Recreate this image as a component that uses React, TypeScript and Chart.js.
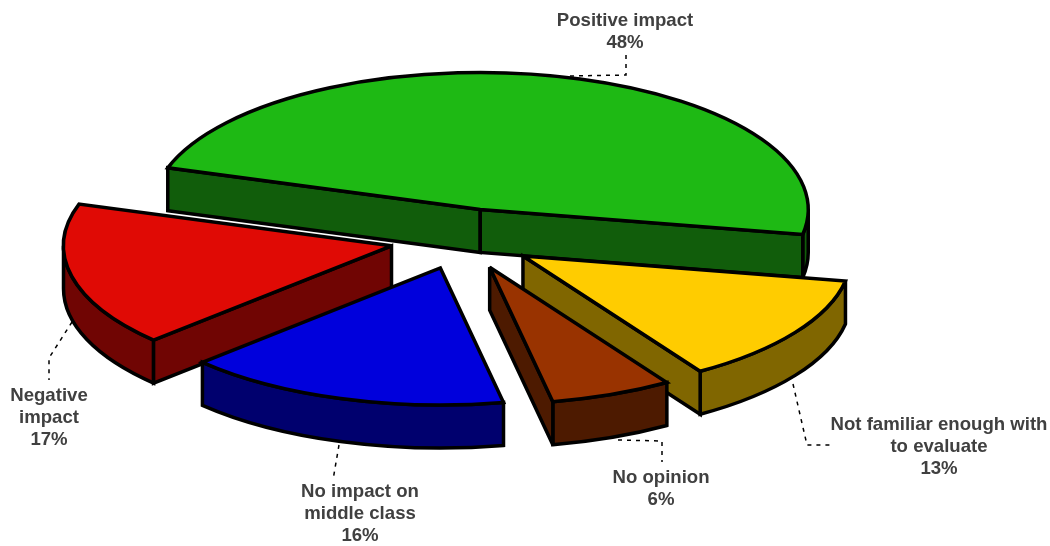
import React, { useEffect, useRef } from "react";
import { Chart, registerables } from "chart.js";

Chart.register(...registerables);

const categories = ["Positive impact", "Not familiar enough with to evaluate", "No opinion", "No impact on middle class", "Negative impact"];
const shares = [48, 13, 6, 16, 17];
const topColors = ["#1EB914", "#FFCC00", "#993300", "#0000DC", "#E00A05"];
const wallColors = ["#115D0B", "#806600", "#4D1A00", "#00006E", "#700503"];
const labelLines = [["Positive impact"], ["Not familiar enough with", "to evaluate"], ["No opinion"], ["No impact on", "middle class"], ["Negative", "impact"]];

// Label block centre (x, first baseline) and the dotted leader running to each slice.
const labelAnchors = [[625, 26], [939, 430], [661, 483], [360, 497], [49, 401]];
const leaders = [
  [[570, 76], [626, 75], [626, 52]],
  [[793, 384], [807, 445], [830, 445]],
  [[618, 440], [662, 441], [662, 462]],
  [[339, 445], [333, 480]],
  [[72, 322], [49, 358], [49, 380]],
];

// Projection of the flat pie onto the tilted view.
const RADIUS_X = 328;
const RADIUS_Y = 137;
const DEPTH = 43;
const PAINT_ORDER = [0, 1, 2, 4, 3];

const tiltedPie = {
  id: "tiltedPie",
  beforeDatasetDraw(chart: any) {
    const ctx: CanvasRenderingContext2D = chart.ctx;
    const arcs = chart.getDatasetMeta(0).data;
    ctx.save();
    ctx.lineWidth = 3.5;
    ctx.lineJoin = "miter";
    ctx.miterLimit = 3;
    ctx.strokeStyle = "#000";

    for (const i of PAINT_ORDER) {
      const arc = arcs[i];
      const { x, y, startAngle, endAngle, outerRadius } = arc.getProps(["x", "y", "startAngle", "endAngle", "outerRadius"]);
      const sx = RADIUS_X / outerRadius;
      const sy = RADIUS_Y / outerRadius;
      const mid = (startAngle + endAngle) / 2;
      const shift = (arc.options.offset || 0) / 4;
      const px = x + Math.cos(mid) * shift * sx;
      const py = y + Math.sin(mid) * shift * sy;
      const rim = (a: number) => [px + RADIUS_X * Math.cos(a), py + RADIUS_Y * Math.sin(a)];

      const paint = (fill: string) => {
        ctx.fillStyle = fill;
        ctx.fill();
        ctx.stroke();
      };

      // Curved outer wall: only the part of the rim that faces the viewer.
      for (let k = -1; k <= 1; k++) {
        const a = Math.max(startAngle, 2 * Math.PI * k);
        const b = Math.min(endAngle, Math.PI + 2 * Math.PI * k);
        if (b > a) {
          ctx.beginPath();
          ctx.ellipse(px, py, RADIUS_X, RADIUS_Y, 0, a, b);
          ctx.ellipse(px, py + DEPTH, RADIUS_X, RADIUS_Y, 0, b, a, true);
          ctx.closePath();
          paint(wallColors[i]);
        }
      }

      // Flat cut walls, drawn when their outward normal points toward the viewer.
      const cutWall = (a: number) => {
        const [ex, ey] = rim(a);
        ctx.beginPath();
        ctx.moveTo(px, py);
        ctx.lineTo(ex, ey);
        ctx.lineTo(ex, ey + DEPTH);
        ctx.lineTo(px, py + DEPTH);
        ctx.closePath();
        paint(wallColors[i]);
      };
      if (Math.cos(startAngle) < 0) cutWall(startAngle);
      if (Math.cos(endAngle) > 0) cutWall(endAngle);

      // Top face.
      ctx.beginPath();
      ctx.moveTo(px, py);
      ctx.ellipse(px, py, RADIUS_X, RADIUS_Y, 0, startAngle, endAngle);
      ctx.closePath();
      paint(arc.options.backgroundColor);
    }
    ctx.restore();
    return false;
  },
  afterDraw(chart: any) {
    const ctx: CanvasRenderingContext2D = chart.ctx;
    ctx.save();
    ctx.strokeStyle = "#000";
    ctx.lineWidth = 1.5;
    ctx.setLineDash([4, 5]);
    for (const path of leaders) {
      ctx.beginPath();
      path.forEach(([x, y], n) => (n ? ctx.lineTo(x, y) : ctx.moveTo(x, y)));
      ctx.stroke();
    }
    ctx.fillStyle = "#404040";
    ctx.font = 'bold 18.6px "Liberation Sans", Arial, sans-serif';
    ctx.textAlign = "center";
    ctx.textBaseline = "alphabetic";
    labelLines.forEach((lines, i) => {
      const [x, y] = labelAnchors[i];
      [...lines, `${shares[i]}%`].forEach((text, n) => ctx.fillText(text, x, y + n * 22));
    });
    ctx.restore();
  },
};

export default function App() {
  const canvasRef = useRef<HTMLCanvasElement>(null);
  useEffect(() => {
    const chart = new Chart(canvasRef.current as HTMLCanvasElement, {
      type: "pie",
      data: {
        labels: categories,
        datasets: [{ data: shares, backgroundColor: topColors, borderWidth: 0, offset: 147, hoverOffset: 0 }],
      },
      options: {
        responsive: false,
        animation: false,
        events: [],
        rotation: -72.3,
        layout: { padding: { right: 125, bottom: 68 } },
        plugins: { legend: { display: false }, tooltip: { enabled: false } },
      },
      plugins: [tiltedPie],
    } as any);
    return () => chart.destroy();
  }, []);
  return (
    <div style={{ position: "absolute", left: 0, top: 0, width: 1050, height: 546, background: "#fff" }}>
      <canvas ref={canvasRef} width={1050} height={546} style={{ display: "block" }} />
    </div>
  );
}
